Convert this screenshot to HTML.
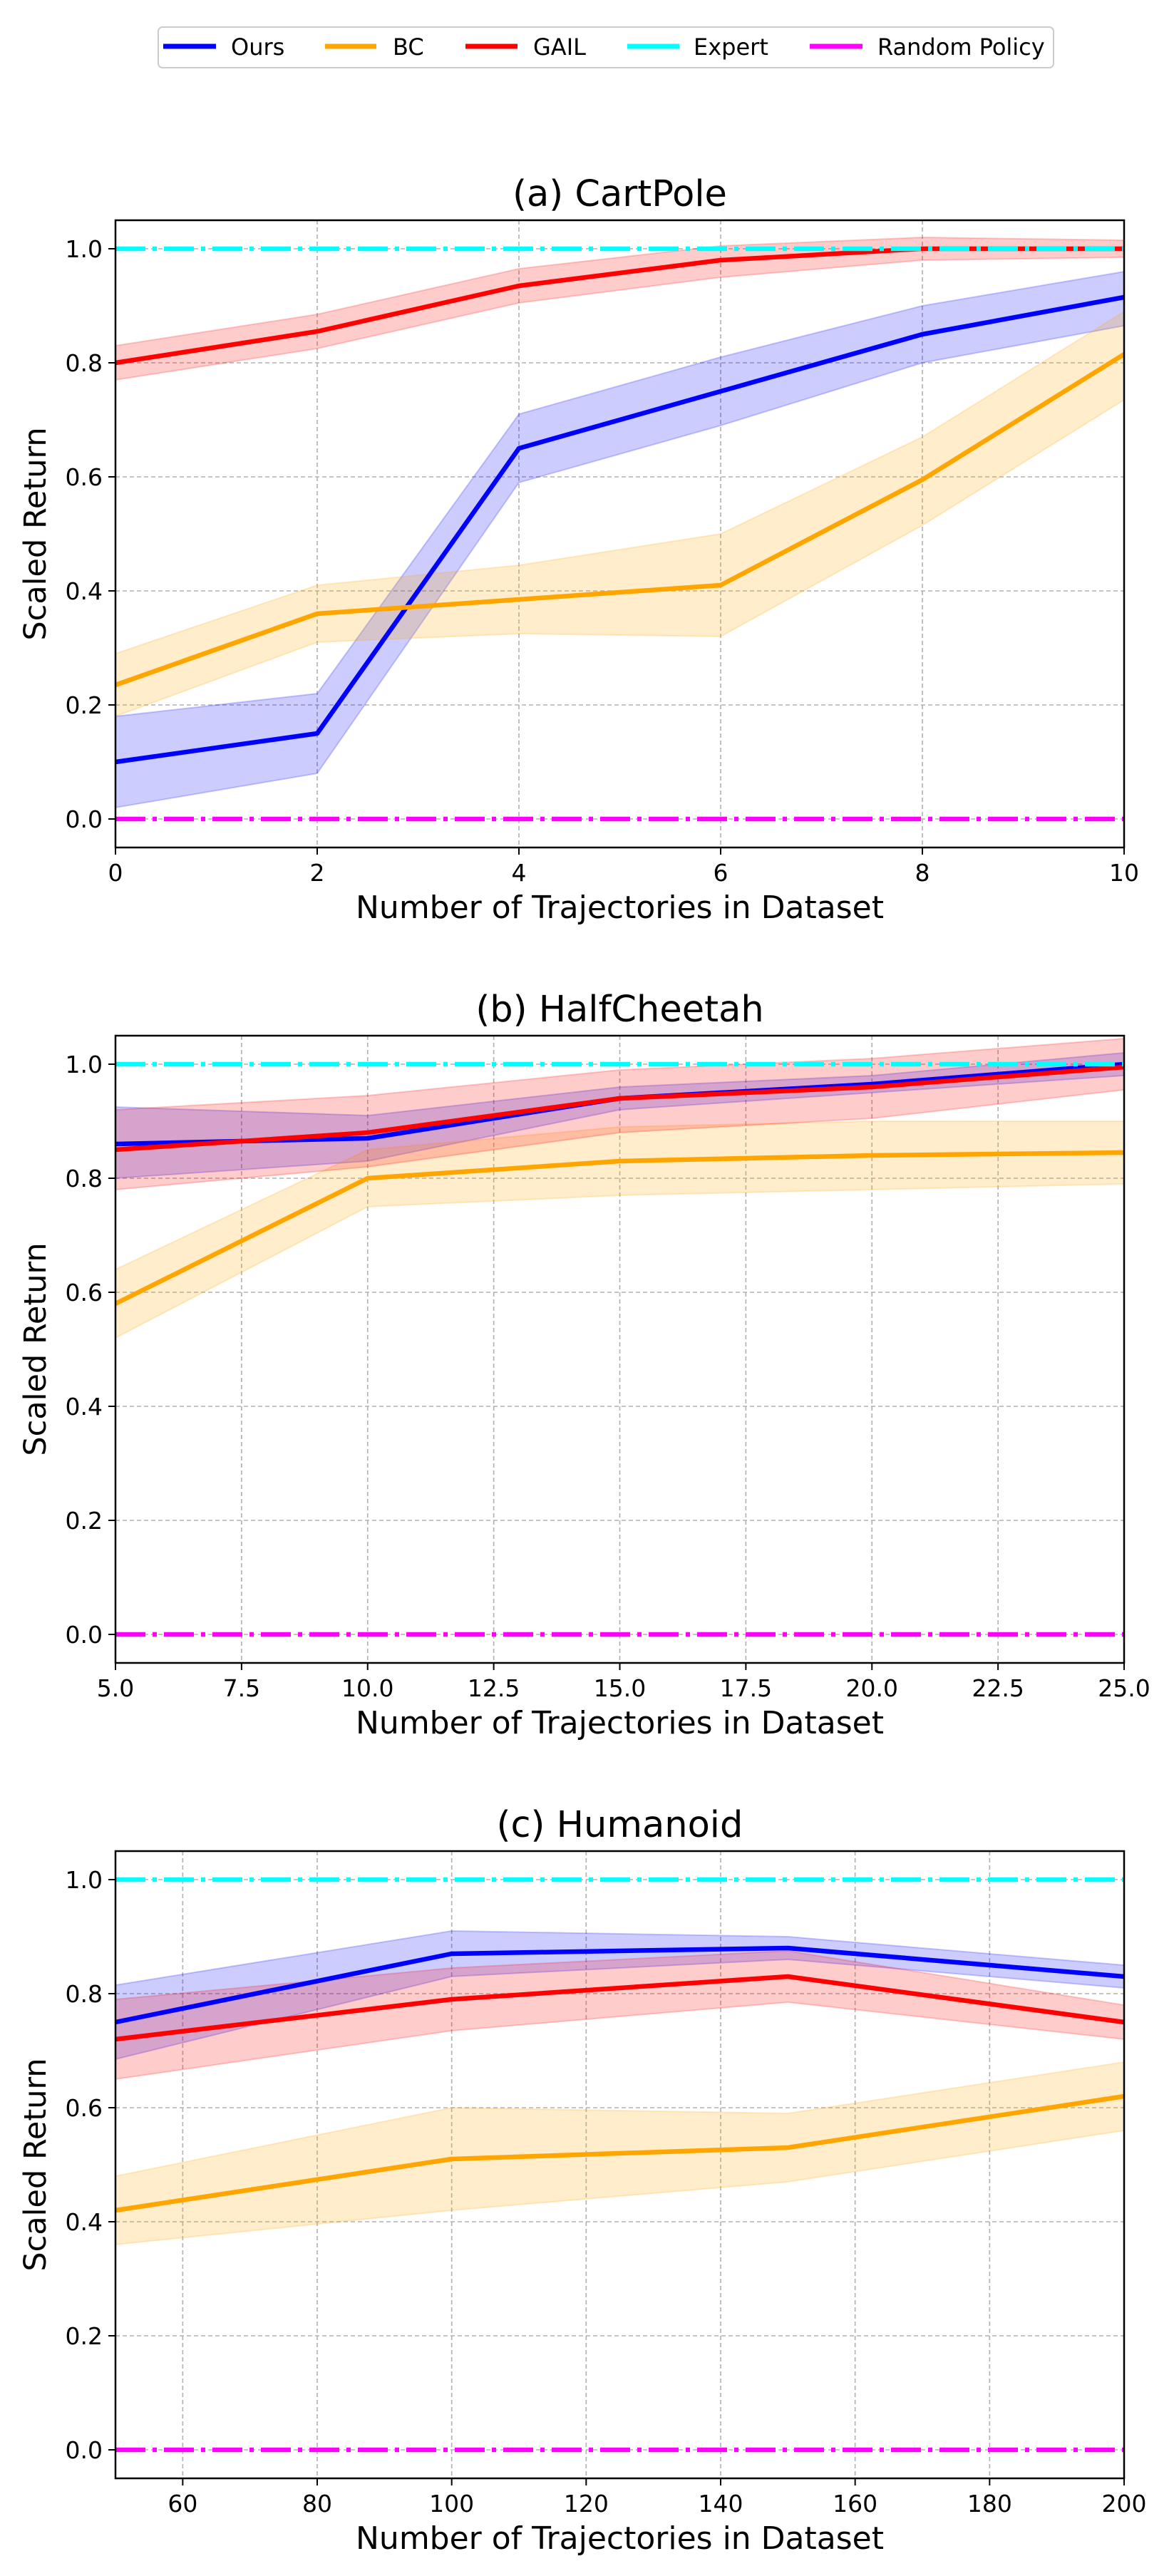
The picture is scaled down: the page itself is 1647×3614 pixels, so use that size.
<!DOCTYPE html>
<html><head><meta charset="utf-8"><style>
html,body{margin:0;padding:0;background:#fff;}
svg{display:block;font-family:"DejaVu Sans","Liberation Sans",sans-serif;}
</style></head><body>
<svg id="fig" width="1647" height="3614" viewBox="0 0 1647 3614" xmlns="http://www.w3.org/2000/svg">
<g>
<rect x="222" y="38" width="1256" height="57" rx="6" fill="#fff" stroke="#ccc" stroke-width="2"/>
<line x1="229" y1="65" x2="303" y2="65" stroke="#0000ff" stroke-width="7"/><text x="324" y="77" font-size="32">Ours</text>
<line x1="456" y1="65" x2="528" y2="65" stroke="#ffa500" stroke-width="7"/><text x="551" y="77" font-size="32">BC</text>
<line x1="653" y1="65" x2="726" y2="65" stroke="#ff0000" stroke-width="7"/><text x="748" y="77" font-size="32">GAIL</text>
<line x1="880" y1="65" x2="953" y2="65" stroke="#00ffff" stroke-width="7"/><text x="973" y="77" font-size="32">Expert</text>
<line x1="1136" y1="65" x2="1210" y2="65" stroke="#ff00ff" stroke-width="7"/><text x="1231" y="77" font-size="32">Random Policy</text>
</g>
</svg>
<script>
// CartPole
const cpX=[0,2,4,6,8,10];
const cpOurs=[0.10,0.15,0.65,0.75,0.85,0.915];
const cpOursLo=[0.02,0.08,0.59,0.69,0.80,0.865];
const cpOursHi=[0.18,0.22,0.71,0.81,0.90,0.96];
const cpBC=[0.235,0.36,0.385,0.41,0.595,0.815];
const cpBCLo=[0.18,0.31,0.325,0.32,0.515,0.735];
const cpBCHi=[0.29,0.41,0.445,0.50,0.67,0.89];
const cpGAIL=[0.80,0.855,0.935,0.98,1.0,1.0];
const cpGAILLo=[0.77,0.825,0.905,0.95,0.98,0.985];
const cpGAILHi=[0.83,0.885,0.965,1.005,1.02,1.015];
const cpTicks=[0,2,4,6,8,10];
const cpTickLabels=["0","2","4","6","8","10"];
// HalfCheetah
const hcX=[5,10,15,20,25];
const hcOurs=[0.86,0.87,0.94,0.965,1.0];
const hcOursLo=[0.80,0.83,0.92,0.95,0.98];
const hcOursHi=[0.925,0.91,0.96,0.98,1.02];
const hcBC=[0.58,0.80,0.83,0.84,0.845];
const hcBCLo=[0.52,0.75,0.77,0.78,0.79];
const hcBCHi=[0.64,0.85,0.89,0.90,0.90];
const hcGAIL=[0.85,0.88,0.94,0.96,0.995];
const hcGAILLo=[0.78,0.82,0.88,0.905,0.955];
const hcGAILHi=[0.92,0.945,0.99,1.01,1.045];
const hcTicks=[5,7.5,10,12.5,15,17.5,20,22.5,25];
const hcTickLabels=["5.0","7.5","10.0","12.5","15.0","17.5","20.0","22.5","25.0"];
// Humanoid
const huX=[50,100,150,200];
const huOurs=[0.75,0.87,0.88,0.83];
const huOursLo=[0.685,0.83,0.86,0.81];
const huOursHi=[0.815,0.91,0.90,0.85];
const huBC=[0.42,0.51,0.53,0.62];
const huBCLo=[0.36,0.42,0.47,0.56];
const huBCHi=[0.48,0.60,0.59,0.68];
const huGAIL=[0.72,0.79,0.83,0.75];
const huGAILLo=[0.65,0.735,0.785,0.72];
const huGAILHi=[0.79,0.845,0.875,0.78];
const huTicks=[60,80,100,120,140,160,180,200];
const huTickLabels=["60","80","100","120","140","160","180","200"];
const yTicks=[0,0.2,0.4,0.6,0.8,1.0];
const yTickLabels=["0.0","0.2","0.4","0.6","0.8","1.0"];

const NS="http://www.w3.org/2000/svg";
const svg=document.getElementById('fig');
function mk(tag,attrs,parent){const e=document.createElementNS(NS,tag);for(const k in attrs)e.setAttribute(k,attrs[k]);parent.appendChild(e);return e;}

function chart(cfg){
  const L=162,R=1577,T=cfg.top,B=cfg.top+880;
  const g=mk('g',{},svg);
  
  
  const xs=v=>L+(v-cfg.xmin)/(cfg.xmax-cfg.xmin)*(R-L);
  const ys=v=>B-(v+0.05)/1.1*(B-T);
  cfg.ticks.forEach((t,i)=>{
    const l=mk('line',{x1:xs(t),x2:xs(t),y1:T,y2:B,stroke:'#b0b0b0','stroke-width':1.6,'stroke-dasharray':'6 4'},g);
    
    
    mk('line',{x1:xs(t),x2:xs(t),y1:B,y2:B+10,stroke:'#000','stroke-width':2},g);
    const tx=mk('text',{x:xs(t),y:B+47,'font-size':33,'text-anchor':'middle'},g);
    tx.textContent=cfg.labels[i];
    
    
  });
  yTicks.forEach((t,i)=>{
    const l=mk('line',{x1:L,x2:R,y1:ys(t),y2:ys(t),stroke:'#b0b0b0','stroke-width':1.6,'stroke-dasharray':'6 4'},g);
    
    
    mk('line',{x1:L-10,x2:L,y1:ys(t),y2:ys(t),stroke:'#000','stroke-width':2},g);
    const tx=mk('text',{x:L-18,y:ys(t)+12,'font-size':33,'text-anchor':'end'},g);
    tx.textContent=yTickLabels[i];
    
    
  });
  const band=(X,lo,hi,col,nm)=>{
    let d='M'+X.map((x,i)=>xs(x)+','+ys(hi[i])).join('L');
    d+='L'+X.map((x,i)=>[x,i]).reverse().map(([x,i])=>xs(x)+','+ys(lo[i])).join('L')+'Z';
    const p=mk('path',{d:d,fill:col,'fill-opacity':0.2,stroke:col,'stroke-opacity':0.2,'stroke-width':2},g);
    
    
  };
  const line=(X,Y,col,nm)=>{
    const p=mk('polyline',{points:X.map((x,i)=>xs(x)+','+ys(Y[i])).join(' '),fill:'none',stroke:col,'stroke-width':6.5,'stroke-linejoin':'round'},g);
    
    
  };
  band(cfg.x,cfg.oursLo,cfg.oursHi,'#0000ff','ours');
  band(cfg.x,cfg.bcLo,cfg.bcHi,'#ffa500','bc');
  band(cfg.x,cfg.gailLo,cfg.gailHi,'#ff0000','gail');
  line(cfg.x,cfg.ours,'#0000ff','ours');
  line(cfg.x,cfg.bc,'#ffa500','bc');
  line(cfg.x,cfg.gail,'#ff0000','gail');
  const e=mk('line',{x1:L,x2:R,y1:ys(1),y2:ys(1),stroke:'#00ffff','stroke-width':6.5,'stroke-dasharray':'42 10 6 10'},g);
  
  
  const r=mk('line',{x1:L,x2:R,y1:ys(0),y2:ys(0),stroke:'#ff00ff','stroke-width':6.5,'stroke-dasharray':'42 10 6 10'},g);
  
  
  mk('rect',{x:L,y:T,width:R-L,height:B-T,fill:'none',stroke:'#000','stroke-width':2.5},g);
  const tt=mk('text',{x:(L+R)/2,y:T-20,'font-size':51,'text-anchor':'middle'},g);
  tt.textContent=cfg.title;
  
  
  const xl=mk('text',{x:(L+R)/2,y:B+99,'font-size':44,'text-anchor':'middle'},g);
  xl.textContent='Number of Trajectories in Dataset';
  
  
  const yl=mk('text',{x:0,y:0,'font-size':43,'text-anchor':'middle',transform:'translate(64,'+((T+B)/2)+') rotate(-90)'},g);
  yl.textContent='Scaled Return';
  
  
}
chart({name:'cartpole-chart',title:'(a) CartPole',top:309,xmin:0,xmax:10,ticks:cpTicks,labels:cpTickLabels,x:cpX,ours:cpOurs,oursLo:cpOursLo,oursHi:cpOursHi,bc:cpBC,bcLo:cpBCLo,bcHi:cpBCHi,gail:cpGAIL,gailLo:cpGAILLo,gailHi:cpGAILHi});
chart({name:'halfcheetah-chart',title:'(b) HalfCheetah',top:1453,xmin:5,xmax:25,ticks:hcTicks,labels:hcTickLabels,x:hcX,ours:hcOurs,oursLo:hcOursLo,oursHi:hcOursHi,bc:hcBC,bcLo:hcBCLo,bcHi:hcBCHi,gail:hcGAIL,gailLo:hcGAILLo,gailHi:hcGAILHi});
chart({name:'humanoid-chart',title:'(c) Humanoid',top:2597,xmin:50,xmax:200,ticks:huTicks,labels:huTickLabels,x:huX,ours:huOurs,oursLo:huOursLo,oursHi:huOursHi,bc:huBC,bcLo:huBCLo,bcHi:huBCHi,gail:huGAIL,gailLo:huGAILLo,gailHi:huGAILHi});
</script>
</body></html>
